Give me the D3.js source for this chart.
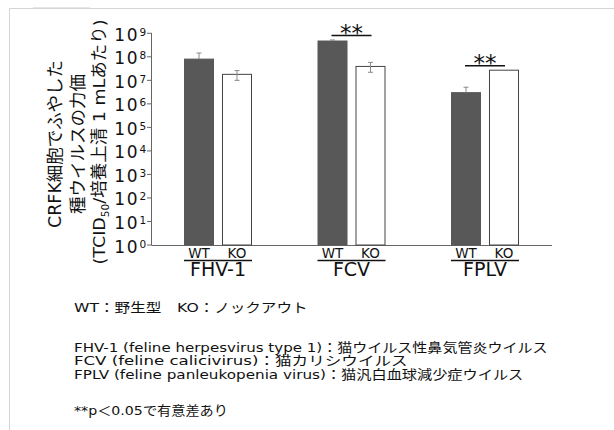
<!DOCTYPE html>
<html>
<head>
<meta charset="utf-8">
<script src="https://cdn.jsdelivr.net/npm/d3@7"></script>
<style>
  body { margin: 0; background: #fff; }
  svg { display: block; }
  text { font-family: "DejaVu Sans", "Noto Sans CJK JP", sans-serif; fill: #111; }
</style>
</head>
<body>
<svg id="chart" width="614" height="430"></svg>
<script>
// data
const viruses = ['FHV-1', 'FCV', 'FPLV']
const strains = ['WT', 'KO']
const wtValues = [8.0e7, 4.7e8, 3.0e6]
const koValues = [1.8e7, 3.9e7, 2.7e7]
const wtErrHigh = [1.45e8, 5.2e8, 5.1e6]
const koErrHigh = [2.6e7, 5.8e7, 2.7e7]
const koErrLow = [1.0e7, 2.2e7, 2.7e7]
const tickExps = [0, 1, 2, 3, 4, 5, 6, 7, 8, 9]
const significant = ['FCV', 'FPLV']
const yLabelLines = ['CRFK細胞でふやした', '種ウイルスの力価']
const notes = [
  'WT：野生型　KO：ノックアウト',
  'FHV-1 (feline herpesvirus type 1)：猫ウイルス性鼻気管炎ウイルス',
  'FCV (feline calicivirus)：猫カリシウイルス',
  'FPLV (feline panleukopenia virus)：猫汎白血球減少症ウイルス',
  '**p＜0.05で有意差あり'
]

// layout of the text blocks (baseline, width in px)
const noteY = [312, 351.5, 365, 378.5, 415]
const noteW = [234, 474, 334, 450, 154]
const yLabelW = [168, 140, 245]

const rows = viruses.map((v, i) => ({
  virus: v,
  bars: [
    { strain: 'WT', value: wtValues[i], hi: wtErrHigh[i], lo: wtValues[i] },
    { strain: 'KO', value: koValues[i], hi: koErrHigh[i], lo: koErrLow[i] }
  ]
}))

const svg = d3.select('#chart')

// stretch a text horizontally (in its own frame) to a given width
const fitWidth = (sel, w) => {
  sel.each(function () {
    const cur = this.getComputedTextLength()
    const t = d3.select(this)
    const base = t.attr('transform') || ''
    t.attr('transform', base + ` scale(${w / cur},1)`)
  })
}

// light frame around the figure
svg.append('path')
  .attr('d', 'M9.5,430 V8.5 H614')
  .attr('fill', 'none')
  .attr('stroke', '#d4d4d4')
svg.append('line')
  .attr('x1', 33).attr('x2', 90).attr('y1', 7.5).attr('y2', 7.5)
  .attr('stroke', '#e6e6e6')

const y = d3.scaleLog().domain([1, 1e9]).range([245, 33.3])
const x = d3.scalePoint().domain(viruses).range([218, 485])
const xIn = d3.scaleBand().domain(strains).range([-34, 34]).paddingInner(0.21)

// axes
svg.append('line')
  .attr('x1', 152).attr('x2', 552).attr('y1', 245.5).attr('y2', 245.5)
  .attr('stroke', '#666')
svg.append('line')
  .attr('x1', 151.5).attr('x2', 151.5).attr('y1', y(1e9)).attr('y2', 245.5)
  .attr('stroke', '#666')

const ticks = svg.append('g')
  .selectAll('g')
  .data(tickExps)
  .join('g')
  .attr('transform', d => `translate(0,${y(Math.pow(10, d))})`)
ticks.append('line')
  .attr('x1', 147).attr('x2', 152)
  .attr('stroke', '#666')
ticks.append('text')
  .attr('x', 139)
  .attr('y', 7.5)
  .attr('text-anchor', 'end')
  .style('font-size', '17px')
  .style('letter-spacing', '1.5px')
  .text('10')
ticks.append('text')
  .attr('x', 139.5)
  .attr('y', 2.5)
  .style('font-size', '10.5px')
  .text(d => d)

// bars
const groups = svg.append('g')
  .selectAll('g')
  .data(rows)
  .join('g')
  .attr('transform', d => `translate(${x(d.virus)},0)`)

groups.selectAll('rect')
  .data(d => d.bars)
  .join('rect')
  .attr('x', d => xIn(d.strain) + 0.5)
  .attr('width', xIn.bandwidth() - 1)
  .attr('y', d => y(d.value))
  .attr('height', d => 245 - y(d.value))
  .attr('fill', d => d.strain === 'WT' ? '#585858' : '#fff')
  .attr('stroke', d => d.strain === 'WT' ? '#585858' : '#444')

// error bars
const err = groups.selectAll('g.err')
  .data(d => d.bars.filter(b => b.hi > b.value))
  .join('g')
  .attr('class', 'err')
  .attr('transform', d => `translate(${xIn(d.strain) + xIn.bandwidth() / 2},0)`)
  .attr('stroke', '#8a8a8a')
err.append('line')
  .attr('y1', d => y(d.hi)).attr('y2', d => y(d.lo))
err.append('line')
  .attr('x1', -2.5).attr('x2', 2.5)
  .attr('y1', d => y(d.hi)).attr('y2', d => y(d.hi))
err.filter(d => d.lo < d.value).append('line')
  .attr('x1', -2.5).attr('x2', 2.5)
  .attr('y1', d => y(d.lo)).attr('y2', d => y(d.lo))

// category labels
groups.selectAll('text.strain')
  .data(d => d.bars)
  .join('text')
  .attr('class', 'strain')
  .attr('x', d => xIn(d.strain) + xIn.bandwidth() / 2)
  .attr('y', 258)
  .attr('text-anchor', 'middle')
  .style('font-size', '13.5px')
  .text(d => d.strain)
groups.append('line')
  .attr('x1', -34).attr('x2', 34)
  .attr('y1', 260.5).attr('y2', 260.5)
  .attr('stroke', '#111').attr('stroke-width', 1.6)
groups.append('text')
  .attr('y', 276)
  .attr('text-anchor', 'middle')
  .style('font-size', '19px')
  .text(d => d.virus)

// significance marks
const sigY = d => y(d3.max(d.bars, b => b.hi)) - 4.5
const sig = groups.filter(d => significant.includes(d.virus))
sig.append('line')
  .attr('x1', -20).attr('x2', 20)
  .attr('y1', sigY).attr('y2', sigY)
  .attr('stroke', '#111').attr('stroke-width', 1.6)
sig.append('text')
  .attr('y', d => sigY(d) + 5.5)
  .attr('text-anchor', 'middle')
  .style('font-size', '23px')
  .text('**')

// y axis title
const yt = svg.append('g')
  .attr('transform', 'translate(0,144) rotate(-90)')
yt.selectAll('text.l')
  .data(yLabelLines)
  .join('text')
  .attr('class', 'l')
  .attr('transform', (d, i) => `translate(0,${61 + i * 23})`)
  .attr('text-anchor', 'middle')
  .style('font-size', '17px')
  .text(d => d)
  .each(function (d, i) { fitWidth(d3.select(this), yLabelW[i]) })
const t3 = yt.append('text')
  .attr('transform', 'translate(2,105)')
  .attr('text-anchor', 'middle')
  .style('font-size', '16.5px')
t3.append('tspan').text('(TCID')
t3.append('tspan').attr('dy', 4).style('font-size', '10px').text('50')
t3.append('tspan').attr('dy', -4).text('/培養上清 1 mLあたり)')
fitWidth(t3, yLabelW[2])

// notes
svg.append('g')
  .selectAll('text')
  .data(notes)
  .join('text')
  .attr('transform', (d, i) => `translate(74,${noteY[i]})`)
  .style('font-size', '13px')
  .text(d => d)
  .each(function (d, i) { fitWidth(d3.select(this), noteW[i]) })
</script>
</body>
</html>
